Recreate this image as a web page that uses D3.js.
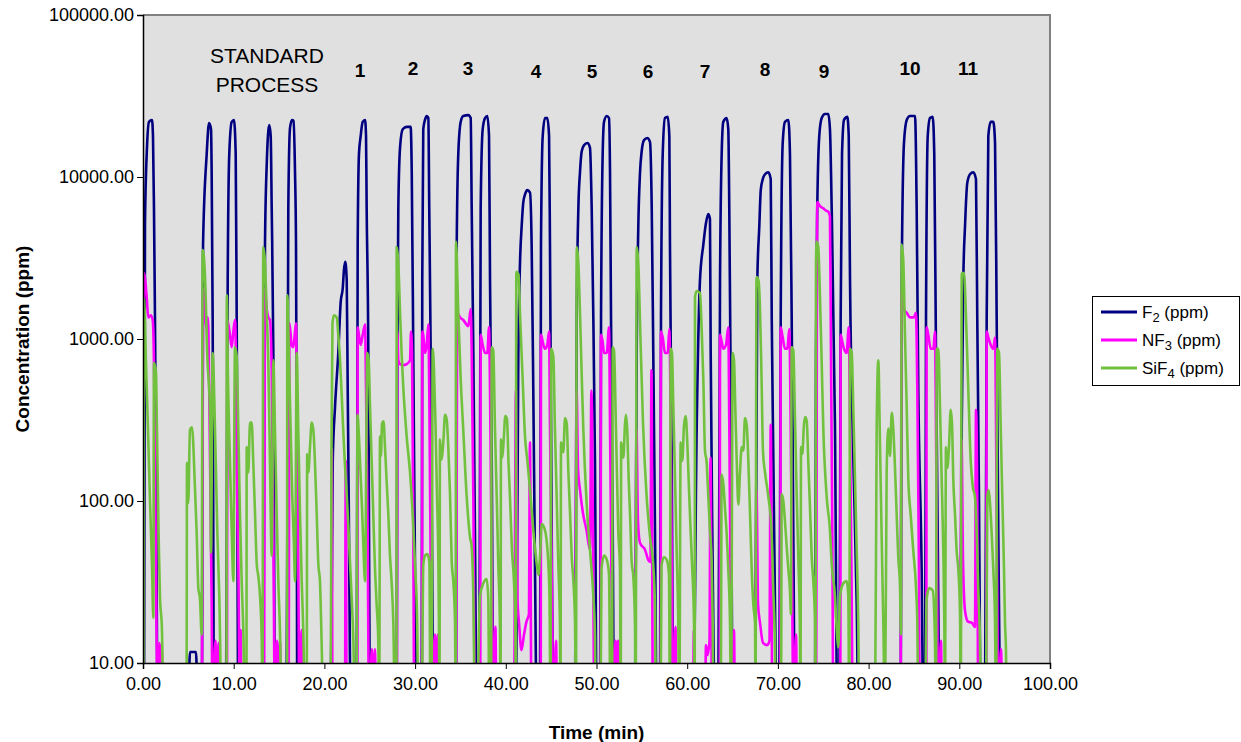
<!DOCTYPE html>
<html>
<head>
<meta charset="utf-8">
<script src="https://cdn.jsdelivr.net/npm/d3@7"></script>
<style>
  body { margin: 0; background: #fff; }
  svg { display: block; font-family: "Liberation Sans", Arial, sans-serif; }
</style>
</head>
<body>
<div id="chart"></div>
<script>
// axis ticks
var timeTicks = [0, 10, 20, 30, 40, 50, 60, 70, 80, 90, 100];
var concTicks = [10, 100, 1000, 10000, 100000];

// [time (min), concentration (ppm)] ; values below 10 sit under the axis
var f2Data = [
[0,5],[0.11,5],[0.22,5200],[0.44,15200],[0.66,21900],[0.99,22500],[1.10,17900],[1.21,6400],[1.32,1360],[1.65,5],
[4.96,5],[5.18,11.7],[5.84,11.7],[6.06,5],
[6.50,5],[6.62,3830],[7.02,13800],[7.28,21500],[7.50,19700],[7.57,10700],[7.68,1360],[7.83,5],
[9.15,5],[9.23,63],[9.34,2310],[9.51,13800],[9.78,21900],[10.03,22500],[10.22,13800],[10.33,1360],[10.51,5],
[13.23,5],[13.34,63],[13.45,3830],[13.64,11900],[13.92,20900],[14.08,17900],[14.19,6400],[14.37,820],[14.55,5],
[15.82,5],[15.91,63],[16.02,6400],[16.21,20100],[16.43,22500],[16.59,22200],[16.76,10700],[16.87,3830],[16.95,177],[17.01,5],
[20.69,5],[20.92,177],[21.17,380],[21.53,820],[21.80,1700],[22.02,2050],[22.16,2680],[22.30,3000],[22.46,2310],[22.57,490],[22.68,106],[22.74,38],[22.90,5],
[23.56,5],[23.67,3830],[23.81,13800],[24.00,17900],[24.22,21900],[24.48,22500],[24.59,17900],[24.66,6400],[24.84,820],[24.95,23],[25.03,5],
[27.97,5],[28.04,820],[28.15,6400],[28.34,15200],[28.63,19700],[29.07,20400],[29.51,20400],[29.63,10700],[29.80,820],[29.99,38],[30.26,5],
[30.73,5],[30.79,2310],[30.90,19700],[31.09,22500],[31.28,23800],[31.46,23100],[31.56,6400],[31.72,820],[31.94,13.7],[32.01,5],
[34.51,5],[34.59,3830],[34.76,13800],[35.03,21900],[35.31,23800],[35.87,24100],[36.13,23100],[36.24,6400],[36.42,820],[36.60,63],[36.79,5],
[37.08,5],[37.23,6400],[37.45,19700],[37.71,23100],[37.96,23800],[38.15,17900],[38.26,2310],[38.45,177],[38.62,5],
[41.12,5],[41.38,820],[41.57,3000],[41.75,4970],[41.93,7000],[42.12,7800],[42.37,8300],[42.67,8000],[42.85,3830],[43.03,490],[43.22,38],[43.41,5],
[43.77,5],[43.88,3830],[44.07,17900],[44.32,23100],[44.58,23100],[44.77,17900],[44.87,3830],[45.06,63],[45.24,5],
[47.63,5],[47.82,1360],[48.00,6400],[48.18,10700],[48.37,14400],[48.62,15700],[48.99,16200],[49.28,15200],[49.47,6400],[49.65,1360],[49.83,177],[50.02,5],
[50.39,5],[50.50,1360],[50.68,13800],[50.83,21900],[51.13,23800],[51.38,23100],[51.49,10700],[51.60,1360],[51.79,63],[51.93,5],
[54.24,5],[54.43,820],[54.61,4970],[54.80,10700],[54.98,14400],[55.24,16900],[55.60,17400],[55.90,16400],[56.09,6400],[56.26,820],[56.45,63],[56.64,5],
[57.00,5],[57.11,1360],[57.30,13800],[57.55,23100],[57.85,23500],[58.03,17900],[58.10,3830],[58.29,177],[58.47,5],
[60.67,5],[61.05,295],[61.41,2310],[61.78,3830],[62.07,5200],[62.33,5900],[62.51,5500],[62.59,820],[62.77,63],[63.07,5],
[63.43,5],[63.62,2310],[63.80,13800],[63.98,21900],[64.35,23100],[64.53,19700],[64.64,6400],[64.80,490],[65.02,5],
[67.48,5],[67.73,2310],[67.95,4970],[68.11,8300],[68.33,9700],[68.58,10400],[68.95,10700],[69.21,9700],[69.32,1360],[69.50,177],[69.68,23],[69.87,5],
[70.15,5],[70.31,1360],[70.53,16200],[70.78,21900],[71.15,22500],[71.33,13800],[71.52,1360],[71.70,63],[71.88,5],
[74.09,5],[74.20,820],[74.34,6400],[74.56,17900],[74.83,23100],[75.19,24500],[75.56,24500],[75.74,19700],[75.93,6400],[76.29,295],[76.55,5],
[76.77,5],[76.92,1360],[77.07,13800],[77.29,22500],[77.65,23500],[77.81,17900],[77.95,2310],[78.32,177],[78.69,23],[78.87,5],
[83.54,5],[83.65,2310],[83.90,16200],[84.20,22500],[84.56,23800],[85.12,23800],[85.30,6400],[85.48,490],[85.85,38],[86.03,5],
[86.22,5],[86.33,1360],[86.52,17900],[86.77,23100],[87.07,23500],[87.24,13800],[87.43,820],[87.69,23],[87.80,5],
[90.08,5],[90.27,295],[90.44,2310],[90.63,4970],[90.88,9200],[91.18,10400],[91.54,10700],[91.84,9700],[91.98,1360],[92.17,106],[92.36,5],
[92.83,5],[93.02,1360],[93.20,17900],[93.46,21900],[93.75,21900],[93.94,16200],[94.12,1360],[94.30,63],[94.49,5]
];

var nf3Data = [
[0,5],[0.11,2550],[0.41,1810],[0.58,1360],[0.85,1400],[1.07,1310],[1.21,710],[1.32,172],[1.43,41],[1.51,12.5],[1.60,5],[1.80,13.3],[1.93,5],[2.06,12.9],[2.21,5],
[6.47,5],[6.65,2010],[6.84,1360],[7.00,1180],[7.11,1360],[7.22,1100],[7.39,177],[7.57,23],[7.66,5],[7.99,13.7],[8.10,5],[8.32,13.3],[8.43,5],
[9.26,5],[9.29,1310],[9.59,1060],[9.78,890],[9.96,1110],[10.14,1310],[10.25,710],[10.33,172],[10.51,41],[10.69,5],[10.77,16],[10.86,5],
[13.34,5],[13.45,2050],[13.64,1530],[13.82,1360],[14.00,1310],[14.19,630],[14.37,63],[14.55,5],[14.77,13.7],[14.88,5],[15.10,13.7],[15.21,5],
[16.05,5],[16.15,1250],[16.39,920],[16.57,890],[16.76,1110],[16.87,1250],[16.95,440],[17.12,41],[17.25,5],[17.50,16],[17.64,5],
[20.76,5],[20.82,210],[20.89,5],
[22.27,5],[22.35,177],[22.46,5],
[23.63,5],[23.67,1180],[23.81,1060],[24.00,920],[24.22,1060],[24.48,1230],[24.59,490],[24.77,63],[24.92,5],[25.25,12.2],[25.36,5],[25.58,12.2],[25.69,5],
[27.99,5],[28.04,1110],[28.15,740],[28.34,700],[28.70,690],[29.07,700],[29.44,740],[29.55,1110],[29.66,820],[29.80,63],[29.91,5],
[30.75,5],[30.79,1110],[30.90,1060],[31.09,820],[31.28,920],[31.46,1230],[31.56,490],[31.72,38],[31.83,5],[32.19,15],[32.30,5],[32.52,15],[32.63,5],
[34.51,5],[34.65,1450],[34.95,1360],[35.31,1310],[35.87,1200],[36.13,1530],[36.24,820],[36.42,106],[36.60,5],
[37.18,5],[37.23,1060],[37.45,920],[37.71,820],[37.96,820],[38.15,1180],[38.26,490],[38.45,38],[38.62,5],[38.86,16.7],[38.97,5],
[40.90,5],[41.12,480],[41.29,24.5],[41.46,17.7],[41.73,12],[42.01,15],[42.28,18],[42.55,20],[42.66,230],[42.83,5],
[43.85,5],[43.88,1060],[44.07,960],[44.32,870],[44.58,920],[44.77,1110],[44.87,295],[45.06,38],[45.24,5],[45.54,13.7],[45.65,5],
[47.63,5],[47.80,480],[47.97,155],[48.18,117],[48.51,84],[48.90,66],[49.28,50],[49.44,480],[49.61,63],[49.77,5],
[50.45,5],[50.50,1060],[50.68,960],[50.83,820],[51.13,820],[51.38,1180],[51.49,295],[51.68,23],[51.79,5],[52.09,13.7],[52.21,5],[52.37,13.7],[52.48,5],
[54.24,5],[54.41,275],[54.57,76],[54.80,55],[55.35,50],[55.73,43],[55.95,42],[56.06,640],[56.22,5],
[57.07,5],[57.11,1110],[57.30,1020],[57.55,820],[57.85,820],[58.03,1150],[58.18,295],[58.33,23],[58.40,5],[58.71,16.7],[58.82,5],
[60.63,5],[60.74,16],[60.85,5],[61.96,5],[62.07,12.9],[62.23,11.2],[62.46,13.7],[62.57,185],[62.73,5],
[63.59,5],[63.62,1060],[63.80,960],[63.98,870],[64.28,920],[64.53,1180],[64.64,295],[64.80,23],[64.91,5],[65.16,16],[65.27,5],
[67.48,5],[67.64,117],[67.81,23],[68.03,17.7],[68.36,13.3],[68.80,12.9],[69.07,13.7],[69.21,295],[69.39,5],
[70.26,5],[70.31,1180],[70.53,1020],[70.78,870],[71.04,870],[71.26,1150],[71.41,295],[71.59,23],[71.70,5],[72.00,15],[72.11,5],
[74.20,5],[74.34,7000],[74.64,6600],[75.01,6400],[75.30,6200],[75.56,6100],[75.74,5700],[75.85,820],[76.00,63],[76.11,5],
[76.88,5],[76.92,1060],[77.10,960],[77.29,870],[77.58,820],[77.81,1180],[77.95,295],[78.14,23],[78.25,5],
[83.52,5],[83.65,1980],[83.90,1530],[84.20,1450],[84.56,1360],[85.00,1360],[85.22,1450],[85.37,490],[85.52,63],[85.67,5],
[86.36,5],[86.40,1180],[86.58,1060],[86.85,870],[87.14,870],[87.32,1110],[87.43,295],[87.57,23],[87.68,5],[87.98,13.7],[88.09,5],
[90.08,5],[90.24,240],[90.41,43],[90.63,21],[90.96,18],[91.40,17.7],[91.73,16.7],[91.84,365],[91.98,101],[92.09,5],
[92.97,5],[93.02,1110],[93.20,1020],[93.46,920],[93.75,870],[93.94,1020],[94.05,295],[94.19,23],[94.30,5],[94.60,12.2],[94.71,5]
];

var sif4Data = [
[0.06,5],[0.11,1770],[0.33,710],[0.55,275],[0.77,101],[0.99,41],[1.14,19],[1.21,710],[1.43,630],[1.54,275],[1.71,66],[1.87,26],[2.09,16],[2.26,5],
[4.80,5],[4.85,172],[4.99,97],[5.18,275],[5.40,285],[5.73,120],[5.92,63],[6.10,29],[6.28,25],[6.47,15],[6.58,3540],[6.84,2400],[7.09,780],[7.39,350],[7.50,48],[7.68,820],[7.94,275],[8.19,66],[8.41,26],[8.68,5],
[9.20,5],[9.24,1860],[9.34,710],[9.59,172],[9.78,66],[9.96,32],[10.14,890],[10.33,780],[10.51,275],[10.69,84],[10.88,32],[11.06,16],[11.25,5],
[11.41,5],[11.43,215],[11.61,150],[11.80,305],[11.98,305],[12.16,172],[12.35,84],[12.54,41],[12.72,34],[12.90,26],[13.09,14],[13.18,5],
[13.26,3700],[13.45,2950],[13.64,1450],[13.82,710],[14.00,172],[14.19,46],[14.37,740],[14.55,275],[14.74,84],[14.92,32],[15.10,16],[15.29,5],
[15.88,5],[15.91,1860],[16.10,710],[16.28,275],[16.46,106],[16.65,52],[16.76,32],[16.95,820],[17.12,275],[17.31,84],[17.50,32],[17.67,16],[17.86,5],
[18.05,5],[18.10,195],[18.23,150],[18.41,215],[18.60,305],[18.78,275],[18.96,172],[19.15,84],[19.33,41],[19.51,32],[19.70,13],[19.88,5],
[20.69,5],[20.78,205],[20.89,1250],[21.06,1400],[21.36,1360],[21.53,1060],[21.72,750],[21.91,450],[22.08,270],[22.27,165],[22.46,110],[22.64,70],[22.82,42],[23.01,25],[23.19,14],[23.37,5],
[23.54,5],[23.65,340],[23.81,250],[23.98,150],[24.15,90],[24.31,50],[24.48,32],[24.73,820],[24.88,740],[25.03,380],[25.21,177],[25.39,82],[25.58,38],[25.76,23],[25.94,13.7],[26.05,5],
[26.13,250],[26.24,190],[26.35,300],[26.52,310],[26.68,215],[26.87,130],[27.05,82],[27.23,46],[27.42,31],[27.60,17.7],[27.78,5],
[27.95,5],[27.97,3700],[28.15,2950],[28.34,1450],[28.52,800],[28.70,500],[29.07,250],[29.44,150],[29.80,70],[29.99,40],[30.21,20],[30.38,5],
[30.73,5],[30.90,40],[31.09,46],[31.35,47],[31.57,42],[31.70,5],
[31.81,5],[31.94,870],[32.08,650],[32.25,300],[32.41,110],[32.56,45],[32.63,18],[32.69,5],
[32.74,240],[32.93,180],[33.11,230],[33.30,340],[33.48,320],[33.66,215],[33.85,110],[34.04,42],[34.21,32],[34.40,18],[34.48,5],
[34.51,4000],[34.76,1450],[35.03,560],[35.31,275],[35.69,106],[36.05,60],[36.24,52],[36.42,26],[36.60,5],
[36.82,5],[37.16,26],[37.52,31],[37.89,33],[38.07,25],[38.18,5],
[38.37,5],[38.45,890],[38.62,850],[38.81,275],[39.00,106],[39.17,41],[39.36,16],[39.42,5],
[39.47,240],[39.61,185],[39.77,240],[39.95,335],[40.13,320],[40.30,172],[40.46,106],[40.68,50],[40.90,32],[41.05,18],[41.10,5],
[41.16,2600],[41.40,2500],[41.57,1400],[41.84,600],[42.12,250],[42.39,175],[42.67,117],[43.03,66],[43.41,41],[43.61,35],[43.77,45],[43.96,72],[44.32,66],[44.69,41],[44.82,25],[44.93,5],
[45.01,870],[45.24,780],[45.42,275],[45.61,106],[45.79,41],[45.98,16],[46.03,5],
[46.09,230],[46.34,200],[46.53,325],[46.72,300],[46.90,150],[47.08,85],[47.27,45],[47.45,32],[47.63,18],[47.74,5],
[47.82,3700],[48.00,2950],[48.18,1450],[48.37,600],[48.55,275],[48.92,95],[49.28,50],[49.65,26],[49.83,15],[49.94,5],
[50.44,5],[50.55,38],[50.83,46],[51.16,43],[51.38,35],[51.54,5],
[51.71,5],[51.79,890],[51.93,850],[52.15,275],[52.40,65],[52.59,38],[52.67,5],
[52.72,230],[52.96,185],[53.14,295],[53.25,340],[53.40,265],[53.55,135],[53.70,82],[53.88,42],[54.06,34],[54.24,17.7],[54.32,5],
[54.43,3700],[54.61,2950],[54.80,1250],[55.13,300],[55.53,106],[55.90,60],[56.26,40],[56.45,22],[56.56,5],
[57.06,5],[57.17,40],[57.44,45],[57.77,43],[57.99,35],[58.10,5],
[58.18,870],[58.32,820],[58.47,380],[58.66,135],[58.84,49],[59.02,17.7],[59.13,5],
[59.28,230],[59.46,177],[59.65,295],[59.83,335],[60.01,230],[60.20,117],[60.39,63],[60.56,38],[60.75,17.7],[60.83,5],
[60.86,1810],[61.05,1980],[61.41,1920],[61.60,1130],[61.78,560],[61.96,205],[62.15,172],[62.33,106],[62.51,66],[62.70,41],[62.81,18],[62.90,5],
[63.69,5],[63.80,145],[63.98,128],[64.17,90],[64.35,63],[64.53,38],[64.72,17.7],[64.83,5],
[65.02,820],[65.16,740],[65.30,380],[65.46,177],[65.64,95],[65.82,150],[66.01,215],[66.19,205],[66.37,325],[66.56,295],[66.74,177],[66.93,82],[67.11,38],[67.29,23],[67.48,17.7],[67.53,5],
[67.64,2410],[67.86,2300],[68.03,1500],[68.19,600],[68.36,200],[68.58,150],[68.95,106],[69.29,66],[69.49,28],[69.68,12],[69.74,5],
[70.34,5],[70.42,110],[70.60,100],[70.78,75],[70.97,52],[71.15,38],[71.33,28],[71.44,20],
[71.52,890],[71.70,850],[71.88,330],[72.07,110],[72.25,45],[72.44,14],[72.49,5],
[72.55,215],[72.69,195],[72.88,300],[73.02,330],[73.18,310],[73.35,175],[73.54,90],[73.73,45],[73.90,32],[74.09,18],[74.15,5],
[74.20,2950],[74.28,4000],[74.45,3700],[74.64,1810],[74.83,710],[75.01,275],[75.38,106],[75.74,66],[75.93,41],[76.29,26],[76.52,15],[76.66,12.5],[76.85,26],[77.21,31],[77.58,32],[77.76,26],[77.87,5],
[77.95,870],[78.14,820],[78.31,380],[78.50,135],[78.69,49],[78.86,17.7],[78.97,5],
[80.71,5],[80.89,275],[81.07,740],[81.26,215],[81.44,60],[81.62,18],[81.81,5],
[81.99,150],[82.17,280],[82.36,190],[82.55,350],[82.72,280],[82.91,160],[83.09,84],[83.27,45],[83.46,30],[83.57,15],
[83.65,3830],[83.83,3000],[84.01,1060],[84.20,380],[84.38,135],[84.64,82],[84.93,49],[85.23,29],[85.37,17.7],[85.48,5],
[86.22,5],[86.40,25],[86.69,29],[87.07,28],[87.32,13.7],[87.43,5],
[87.51,870],[87.69,870],[87.87,380],[88.06,135],[88.24,49],[88.35,17.7],[88.42,5],
[88.53,215],[88.68,160],[88.86,215],[89.05,365],[89.20,295],[89.34,135],[89.53,82],[89.71,49],[89.89,38],[90.08,20],[90.16,5],
[90.27,2550],[90.52,2550],[90.74,1360],[90.99,490],[91.26,177],[91.48,123],[91.73,106],[91.92,63],[92.09,29],[92.28,13.7],[92.39,5],
[92.94,5],[93.09,106],[93.24,117],[93.39,96],[93.57,63],[93.75,38],[93.94,18],[94.05,5],
[94.19,870],[94.38,820],[94.56,295],[94.74,106],[94.93,38],[95.04,17.7],[95.15,11.7],[95.20,5]
];

var seriesNames = [["F", "2"], ["NF", "3"], ["SiF", "4"]];
var seriesColors = ["#000080", "#ff00ff", "#72c13e"];

// text annotations: label, time (min), ppm at baseline
var runLabels = ["1", "2", "3", "4", "5", "6", "7", "8", "9", "10", "11"];
var runLabelTimes = [23.93, 29.77, 35.83, 43.33, 49.50, 55.68, 61.96, 68.58, 75.08, 84.56, 90.96];
var runLabelConc = [41400, 42600, 42600, 40800, 40800, 40800, 40800, 42000, 40800, 42600, 42600];
var processLines = ["STANDARD", "PROCESS"];
var processTime = 13.67;
var processConc = [50600, 33500];

var width = 1241, height = 742;
var plotLeft = 143, plotRight = 1050, plotTop = 15, plotBottom = 663;

var svg = d3.select("#chart").append("svg")
  .attr("width", width)
  .attr("height", height);

var x = d3.scaleLinear().domain([0, 100]).range([plotLeft, plotRight]);
var y = d3.scaleLog().domain([10, 100000]).range([plotBottom, plotTop]);

svg.append("rect")
  .attr("x", plotLeft).attr("y", plotTop)
  .attr("width", plotRight - plotLeft).attr("height", plotBottom - plotTop)
  .attr("fill", "#e0e0e0");

svg.append("clipPath").attr("id", "plotClip")
  .append("rect")
  .attr("x", plotLeft).attr("y", plotTop)
  .attr("width", plotRight - plotLeft).attr("height", plotBottom - plotTop);

var line = d3.line()
  .x(d => x(d[0]))
  .y(d => y(d[1]))
  .curve(d3.curveMonotoneX);

var lines = svg.append("g").attr("clip-path", "url(#plotClip)");
[f2Data, nf3Data, sif4Data].forEach((data, i) => {
  lines.append("path")
    .datum(data)
    .attr("fill", "none")
    .attr("stroke", seriesColors[i])
    .attr("stroke-width", 2.6)
    .attr("stroke-linejoin", "round")
    .attr("d", line);
});

// grey frame top / right
svg.append("path")
  .attr("d", `M${plotLeft},${plotTop}H${plotRight}V${plotBottom}`)
  .attr("fill", "none")
  .attr("stroke", "#808080")
  .attr("stroke-width", 2);

// axes
var yAxis = svg.append("g")
  .attr("transform", `translate(${plotLeft},0)`)
  .call(d3.axisLeft(y).tickValues(concTicks).tickFormat(d3.format(".2f")).tickSize(6).tickPadding(3));
var xAxis = svg.append("g")
  .attr("transform", `translate(0,${plotBottom})`)
  .call(d3.axisBottom(x).tickValues(timeTicks).tickFormat(d3.format(".2f")).tickSize(6).tickPadding(8));

[yAxis, xAxis].forEach(g => {
  g.select(".domain").attr("stroke", "#000").attr("stroke-width", 1.5);
  g.selectAll(".tick line").attr("stroke", "#000");
  g.selectAll(".tick text")
    .attr("fill", "#000")
    .style("font-family", "'Liberation Sans', Arial, sans-serif")
    .style("font-size", "18px");
});

svg.append("text")
  .attr("transform", `translate(22,${(plotTop + plotBottom) / 2}) rotate(-90)`)
  .attr("text-anchor", "middle")
  .attr("dominant-baseline", "central")
  .style("font-size", "19px")
  .style("font-weight", "bold")
  .text("Concentration (ppm)");

svg.append("text")
  .attr("x", (plotLeft + plotRight) / 2)
  .attr("y", 739)
  .attr("text-anchor", "middle")
  .style("font-size", "19px")
  .style("font-weight", "bold")
  .text("Time (min)");

// annotations
svg.selectAll(".runLabel")
  .data(runLabels)
  .enter().append("text")
  .attr("class", "runLabel")
  .attr("x", (d, i) => x(runLabelTimes[i]))
  .attr("y", (d, i) => y(runLabelConc[i]))
  .attr("text-anchor", "middle")
  .style("font-size", "19px")
  .style("font-weight", "bold")
  .text(d => d);

svg.selectAll(".processLabel")
  .data(processLines)
  .enter().append("text")
  .attr("class", "processLabel")
  .attr("x", x(processTime))
  .attr("y", (d, i) => y(processConc[i]))
  .attr("text-anchor", "middle")
  .style("font-size", "21px")
  .text(d => d);

// legend
var legend = svg.append("g");
legend.append("rect")
  .attr("x", 1092.5).attr("y", 296.5)
  .attr("width", 147).attr("height", 89)
  .attr("fill", "#fff")
  .attr("stroke", "#000");

seriesNames.forEach((name, i) => {
  var ly = 312 + i * 28;
  legend.append("line")
    .attr("x1", 1101).attr("x2", 1137)
    .attr("y1", ly).attr("y2", ly)
    .attr("stroke", seriesColors[i])
    .attr("stroke-width", 3);
  var t = legend.append("text")
    .attr("x", 1142).attr("y", ly + 6)
    .style("font-size", "17px");
  t.append("tspan").text(name[0]);
  t.append("tspan").attr("dy", 4).style("font-size", "13px").text(name[1]);
  t.append("tspan").attr("dy", -4).text(" (ppm)");
});
</script>
</body>
</html>
